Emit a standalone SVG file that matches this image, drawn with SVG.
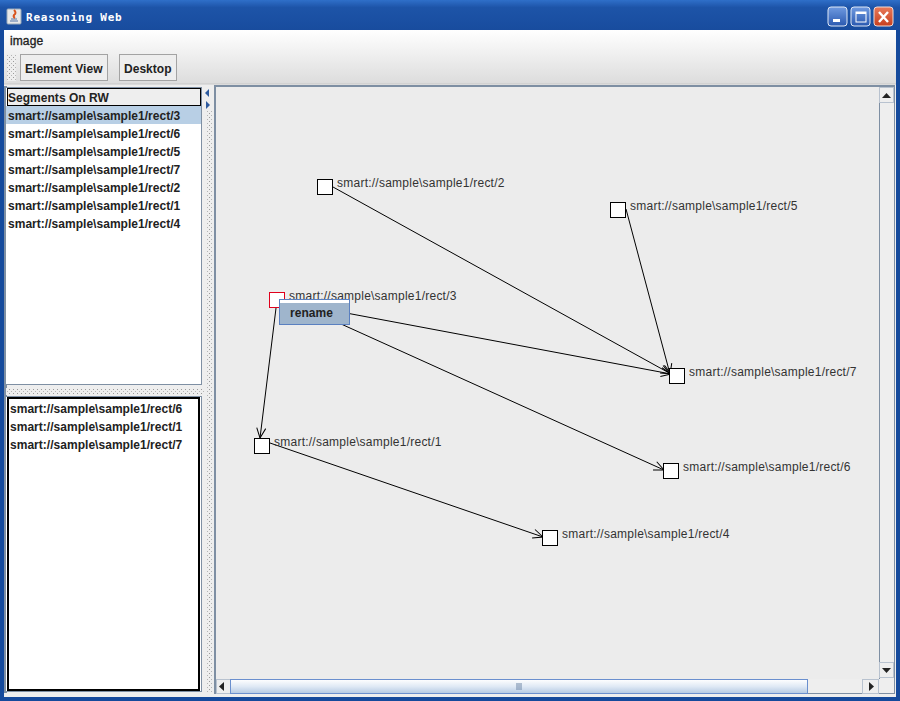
<svg xmlns="http://www.w3.org/2000/svg" width="900" height="701" viewBox="0 0 900 701">
<style>
text{font-family:"Liberation Sans",Arial,sans-serif;fill:#222}
.b{font-size:12px;font-weight:bold;letter-spacing:.03px}
.l{font-size:12px;fill:#333;letter-spacing:.24px}
.n{fill:#fff;stroke:#000;stroke-width:1}
.e{stroke:#000;stroke-width:1;fill:none;marker-end:url(#a)}
.btn{fill:#eee;stroke:#a3a3a3}
.sb{fill:#eee;stroke:#b8c2cf}
</style>
<defs>
<marker id="a" markerUnits="userSpaceOnUse" markerWidth="14" markerHeight="14" refX="12" refY="6" orient="auto"><path d="M2 1.500L12 6L2 10.500" fill="none" stroke="#000"/></marker>
<linearGradient id="tb" x1="0" y1="0" x2="0" y2="1"><stop offset="0" stop-color="#2f6fc9"/><stop offset=".25" stop-color="#1d54a8"/><stop offset="1" stop-color="#184c9e"/></linearGradient>
<linearGradient id="mn" x1="0" y1="0" x2="0" y2="1"><stop offset="0" stop-color="#fff"/><stop offset="1" stop-color="#dcdcdc"/></linearGradient>
<linearGradient id="th" x1="0" y1="0" x2="0" y2="1"><stop offset="0" stop-color="#fff"/><stop offset=".5" stop-color="#dfe9f5"/><stop offset="1" stop-color="#b4c9e2"/></linearGradient>
<linearGradient id="bl" x1="0" y1="0" x2="0" y2="1"><stop offset="0" stop-color="#6f9ae0"/><stop offset="1" stop-color="#2a59b0"/></linearGradient>
<linearGradient id="rd" x1="0" y1="0" x2="0" y2="1"><stop offset="0" stop-color="#e8795a"/><stop offset="1" stop-color="#c8401f"/></linearGradient>
<pattern id="dots" width="4" height="4" patternUnits="userSpaceOnUse"><rect width="4" height="4" fill="#eee"/><rect x="1" y="1" width="1" height="1" fill="#9a9a9a"/><rect x="3" y="3" width="1" height="1" fill="#b5b5b5"/></pattern>
</defs>

<g id="window">
<rect width="900" height="701" fill="#154a9c"/>
<rect y="0" width="900" height="30" fill="url(#tb)"/>
<rect x="4" y="30" width="892" height="667" fill="#eee"/>
<rect x="7" y="9" width="14" height="15" rx="1" fill="#e8e8e8" stroke="#9ab"/>
<path d="M11 19h6M10 21h8" stroke="#5577aa"/><path d="M14 10q3 3 0 5q-1 2 1 3" stroke="#d9541e" stroke-width="2" fill="none"/>
<text x="26" y="21" style="font-family:'DejaVu Sans Mono','Liberation Mono',monospace;font-size:11px;font-weight:bold;fill:#fff;letter-spacing:.8px">Reasoning Web</text>
<g>
<rect x="828" y="7" width="19" height="19" rx="3" fill="url(#bl)" stroke="#dfe8f5"/>
<rect x="833" y="19" width="7" height="3" fill="#fff"/>
<rect x="851" y="7" width="19" height="19" rx="3" fill="url(#bl)" stroke="#dfe8f5"/>
<rect x="856" y="12" width="10" height="10" fill="none" stroke="#fff"/><rect x="856" y="12" width="10" height="2" fill="#fff"/>
<rect x="874" y="7" width="19" height="19" rx="3" fill="url(#rd)" stroke="#f0dcd6"/>
<path d="M879 12l9 10M888 12l-9 10" stroke="#fff" stroke-width="2.4"/>
</g>
<rect x="4" y="30" width="892" height="54" fill="url(#mn)"/>
<line x1="4" y1="84" x2="896" y2="84" fill="none" stroke="#c8c8c8"/>
<text x="10" y="45" style="font-size:12px;stroke:#222;stroke-width:.35;letter-spacing:.1px">image</text>
<rect x="7" y="54" width="9" height="27" fill="url(#dots)"/>
<rect class="btn" x="20.500" y="54.500" width="87" height="26"/>
<text class="b" x="25" y="73">Element View</text>
<rect class="btn" x="119.500" y="54.500" width="57" height="26"/>
<text class="b" x="124" y="73">Desktop</text>
</g>

<g id="segments">
<rect x="4" y="86" width="3" height="607" fill="#7e8fa3"/>
<rect x="5.500" y="87.500" width="196" height="297" fill="#fff" stroke="#7e8fa3"/>
<rect x="7.500" y="88.500" width="193" height="17" fill="#eee" stroke="#000"/>
<text class="b" x="8" y="102">Segments On RW</text>
<rect x="6" y="106" width="195" height="18" fill="#b8cfe5"/>
<text class="b" x="8" y="120">smart://sample\sample1/rect/3</text>
<text class="b" x="8" y="138">smart://sample\sample1/rect/6</text>
<text class="b" x="8" y="156">smart://sample\sample1/rect/5</text>
<text class="b" x="8" y="174">smart://sample\sample1/rect/7</text>
<text class="b" x="8" y="192">smart://sample\sample1/rect/2</text>
<text class="b" x="8" y="210">smart://sample\sample1/rect/1</text>
<text class="b" x="8" y="228">smart://sample\sample1/rect/4</text>
<rect x="6" y="388" width="198" height="7" fill="url(#dots)"/>
<rect x="5.500" y="396.500" width="196" height="295" fill="#fff" stroke="#7e8fa3"/>
<rect x="8" y="398" width="191" height="292" fill="#fff" stroke="#000" stroke-width="2"/>
<text class="b" x="10" y="413">smart://sample\sample1/rect/6</text>
<text class="b" x="10" y="431">smart://sample\sample1/rect/1</text>
<text class="b" x="10" y="449">smart://sample\sample1/rect/7</text>
<rect x="206" y="86" width="7" height="607" fill="url(#dots)"/>
<rect x="204" y="86" width="9" height="24" fill="#eee"/>
<path d="M209 89v8l-4-4z" fill="#2d5a9e"/><path d="M206 101v8l4-4z" fill="#2d5a9e"/>
</g>

<g id="canvas">
<rect x="214.500" y="85.500" width="680" height="608" fill="#ececec" stroke="#7e8fa3"/>
<line x1="214" y1="86.500" x2="895" y2="86.500" stroke="#7e8fa3"/>
<line x1="215.500" y1="86" x2="215.500" y2="693" stroke="#7e8fa3"/>
<rect x="879" y="87" width="15" height="606" fill="#eee"/>
<line x1="879.500" y1="87" x2="879.500" y2="679" stroke="#7e8fa3"/>
<rect class="sb" x="879.500" y="87.500" width="14" height="15"/>
<path d="M882 98h9l-4.500-5z" fill="#222"/>
<rect class="sb" x="879.500" y="662.500" width="14" height="15"/>
<path d="M882 668h9l-4.500 5z" fill="#222"/>
<rect x="216" y="679" width="663" height="14" fill="#eee"/>
<rect class="sb" x="216.500" y="679.500" width="14" height="14"/>
<path d="M224 682v9l-5-4.500z" fill="#222"/>
<rect x="230.500" y="679.500" width="577" height="14" fill="url(#th)" stroke="#6a8fce"/>
<path d="M517 683v7M519 683v7M521 683v7" stroke="#6f86a6"/>
<rect class="sb" x="862.500" y="679.500" width="16" height="14"/>
<path d="M869 682v9l5-4.500z" fill="#222"/>
</g>

<g id="connectors">
<path class="e" d="M333 187L671 374"/>
<path class="e" d="M626 209L670 374"/>
<path class="e" d="M277 300L671 374"/>
<path class="e" d="M288 300L664 470"/>
<path class="e" d="M277 300L260 438"/>
<path class="e" d="M270 443L543 537"/>
</g>

<g id="node-2"><rect class="n" x="317.500" y="179.500" width="15" height="15"/><text class="l" x="337" y="187">smart://sample\sample1/rect/2</text></g>
<g id="node-5"><rect class="n" x="610.500" y="202.500" width="15" height="15"/><text class="l" x="630" y="210">smart://sample\sample1/rect/5</text></g>
<g id="node-3"><rect x="269.500" y="292.500" width="15" height="15" fill="#fff" stroke="#e0001c"/><text class="l" x="289" y="300">smart://sample\sample1/rect/3</text></g>
<g id="node-7"><rect class="n" x="669.500" y="368.500" width="15" height="15"/><text class="l" x="689" y="376">smart://sample\sample1/rect/7</text></g>
<g id="node-1"><rect class="n" x="254.500" y="438.500" width="15" height="15"/><text class="l" x="274" y="446">smart://sample\sample1/rect/1</text></g>
<g id="node-6"><rect class="n" x="663.500" y="463.500" width="15" height="15"/><text class="l" x="683" y="471">smart://sample\sample1/rect/6</text></g>
<g id="node-4"><rect class="n" x="542.500" y="530.500" width="15" height="15"/><text class="l" x="562" y="538">smart://sample\sample1/rect/4</text></g>

<g id="menu">
<rect x="279.500" y="299.500" width="70" height="25" fill="#fff"/>
<rect x="280" y="303" width="69" height="21" fill="#9fb5cc"/>
<rect x="279.500" y="299.500" width="70" height="25" fill="none" stroke="#5a80c0"/>
<text class="b" x="290" y="317">rename</text>
</g>
</svg>
